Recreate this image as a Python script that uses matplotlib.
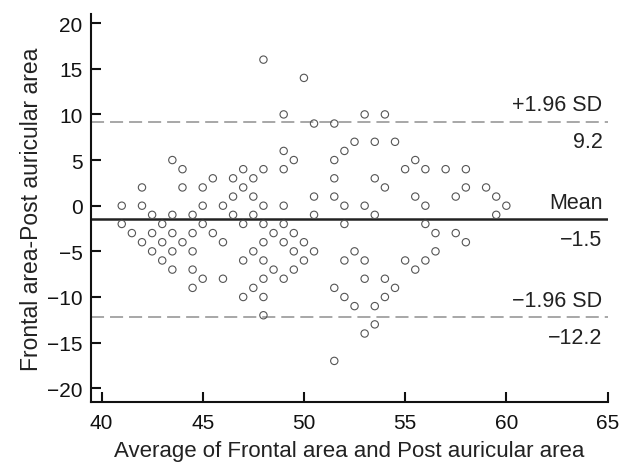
import matplotlib
matplotlib.use("Agg")
import matplotlib.pyplot as plt

# Average of the two measurements (x) and their difference (y)
averages = [41, 41, 41.5, 42, 42, 42, 42.5, 42.5, 42.5, 43, 43, 43,
            43.5, 43.5, 43.5, 43.5, 43.5, 44, 44, 44,
            44.5, 44.5, 44.5, 44.5, 44.5, 45, 45, 45, 45, 45.5, 45.5,
            46, 46, 46, 46.5, 46.5, 46.5, 47, 47, 47, 47, 47,
            47.5, 47.5, 47.5, 47.5, 47.5,
            48, 48, 48, 48, 48, 48, 48, 48, 48, 48.5, 48.5,
            49, 49, 49, 49, 49, 49, 49, 49.5, 49.5, 49.5, 49.5,
            50, 50, 50, 50.5, 50.5, 50.5, 50.5,
            51.5, 51.5, 51.5, 51.5, 51.5, 51.5, 52, 52, 52, 52, 52,
            52.5, 52.5, 52.5, 53, 53, 53, 53, 53,
            53.5, 53.5, 53.5, 53.5, 53.5, 54, 54, 54, 54, 54.5, 54.5,
            55, 55, 55.5, 55.5, 55.5, 56, 56, 56, 56, 56.5, 56.5,
            57, 57.5, 57.5, 58, 58, 58, 59, 59.5, 59.5, 60]
differences = [0, -2, -3, 2, 0, -4, -1, -3, -5, -2, -4, -6,
               5, -1, -3, -5, -7, 4, 2, -4,
               -1, -3, -5, -7, -9, 2, 0, -2, -8, 3, -3,
               0, -4, -8, 3, 1, -1, 4, 2, -2, -6, -10,
               3, 1, -1, -5, -9,
               16, 4, 0, -2, -4, -6, -8, -10, -12, -3, -7,
               10, 6, 4, 0, -2, -4, -8, 5, -3, -5, -7,
               14, -4, -6, 9, 1, -1, -5,
               9, 5, 3, 1, -9, -17, 6, 0, -2, -6, -10,
               7, -5, -11, 10, 0, -6, -8, -14,
               7, 3, -1, -11, -13, 10, 2, -8, -10, 7, -9,
               4, -6, 5, 1, -7, 4, 0, -2, -6, -3, -5,
               4, 1, -3, 4, 2, -4, 2, 1, -1, 0]

mean_diff = -1.5
upper_loa = 9.2
lower_loa = -12.2
line_labels = [("+1.96 SD", "9.2"), ("Mean", "\u22121.5"), ("\u22121.96 SD", "\u221212.2")]

x_ticks = [40, 45, 50, 55, 60, 65]
y_ticks = [20, 15, 10, 5, 0, -5, -10, -15, -20]

plt.rcParams['font.family'] = ['Liberation Sans', 'DejaVu Sans']

fig = plt.figure(figsize=(6.21, 4.64), dpi=100)
ax = fig.add_axes([0.1465, 0.1315, 0.979 - 0.1465, 0.9677 - 0.1315])

ax.scatter(averages, differences, s=28, facecolors='none', edgecolors='#555555',
           linewidths=0.8, zorder=3)

lw_d = 1.3
ax.axhline(upper_loa, color='#a0a0a0', lw=lw_d, linestyle=(0, (9.4 / lw_d, 4.3 / lw_d)), zorder=2)
ax.axhline(lower_loa, color='#a0a0a0', lw=lw_d, linestyle=(0, (9.4 / lw_d, 4.3 / lw_d)), zorder=2)
ax.axhline(mean_diff, color='#222222', lw=1.8, zorder=2)

for yv, (top, bottom) in zip([upper_loa, mean_diff, lower_loa], line_labels):
    ax.annotate(top, xy=(1.0, yv), xycoords=('axes fraction', 'data'),
                xytext=(-4, 4.5), textcoords='offset points', ha='right', va='bottom',
                fontsize=15.5, color='#222222')
    ax.annotate(bottom, xy=(1.0, yv), xycoords=('axes fraction', 'data'),
                xytext=(-4, -7), textcoords='offset points', ha='right', va='top',
                fontsize=15.5, color='#222222')

ax.set_xlim(39.48, 65.02)
ax.set_ylim(-21.5, 21)
ax.set_xticks(x_ticks)
ax.set_yticks(y_ticks)
ax.set_yticklabels([str(v).replace('-', '\u2212') for v in y_ticks])

for s in ['top', 'right']:
    ax.spines[s].set_visible(False)
for s in ['left', 'bottom']:
    ax.spines[s].set_linewidth(1.5)
    ax.spines[s].set_color('#111111')

ax.tick_params(axis='both', direction='in', length=7, width=1.5, labelsize=15,
               colors='#111111')
ax.tick_params(axis='x', pad=8)
ax.tick_params(axis='y', pad=6)

ax.set_xlabel("Average of Frontal area and Post auricular area", fontsize=16,
              color='#222222', labelpad=6)
ax.set_ylabel("Frontal area-Post auricular area", fontsize=16.5, color='#222222',
              labelpad=3)

fig.savefig("out.png", dpi=100)
